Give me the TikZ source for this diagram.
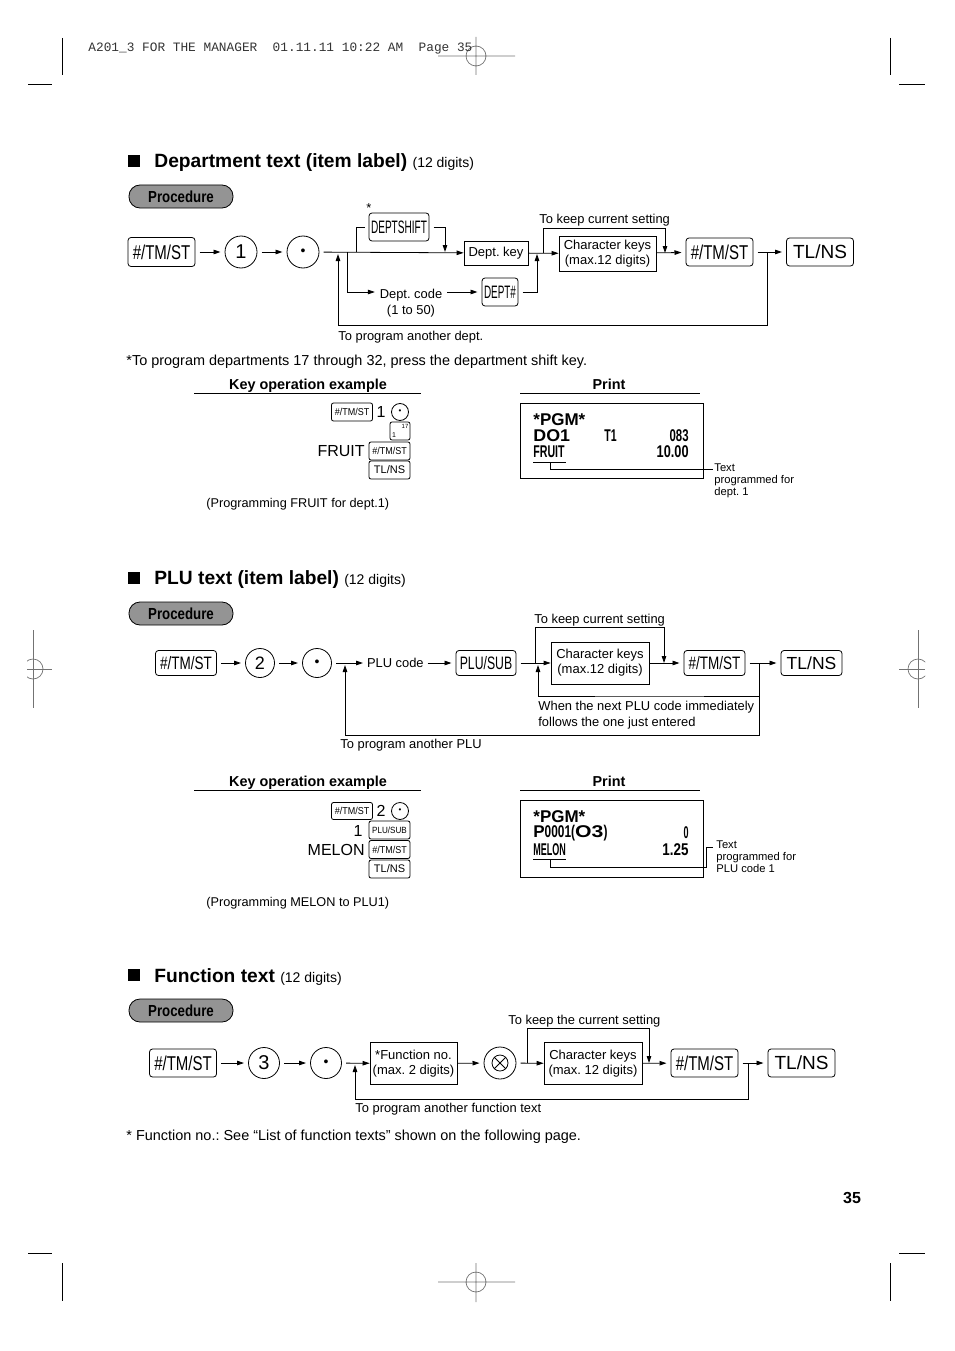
\documentclass[tikz,border=0pt]{standalone}
\usepackage{fontspec,graphicx,xcolor}
\setmainfont{Liberation Sans}
\newfontfamily\monofam{Liberation Mono}
\usetikzlibrary{arrows.meta,positioning,calc}
\newcommand{\fs}[1]{\fontsize{#1}{#1}\selectfont}
\newcommand{\nar}[2]{\scalebox{#1}[1]{#2}}
\tikzset{
    >={Triangle[length=7pt,width=4.5pt]},
    lab/.style={inner sep=0pt, yshift=-1.5pt, anchor=west, align=left, font=\fs{12.9}},
    note/.style={inner sep=0pt, yshift=-1.5pt, anchor=west, font=\fs{14.45}},
    head/.style={inner sep=0pt, anchor=west, font=\fs{19.2}\bfseries},
    sq/.style={fill=black, inner sep=0pt, minimum size=12pt},
    pill/.style={draw, fill=black!42, rounded corners=11pt, minimum width=104pt, minimum height=23pt, inner sep=0pt, font=\fs{16}\bfseries},
    bigkey/.style={draw, rounded corners=3pt, minimum width=67pt, minimum height=29pt, inner sep=0pt, outer sep=4.5pt, font=\fs{20}},
    midkey/.style={draw, rounded corners=3pt, minimum width=61pt, minimum height=25pt, inner sep=0pt, outer sep=4.5pt, font=\fs{18}},
    smallkey/.style={draw, rounded corners=2pt, minimum width=41pt, minimum height=18pt, inner sep=0pt, font=\fs{11}},
    roundkey/.style={draw, circle, minimum size=32pt, inner sep=0pt, outer sep=4.5pt, font=\fs{20}},
    textbox/.style={draw, inner sep=0pt, align=center, font=\fontsize{13}{15}\selectfont},
    crop/.style={black, line width=1pt},
    regmark/.style={black!55, line width=0.7pt},
    exhead/.style={inner sep=0pt, anchor=base, font=\fs{14.4}\bfseries},
    prt/.style={inner sep=0pt, anchor=west, font=\fs{17}\bfseries},
    prtwide/.style={inner sep=0pt, anchor=west, font=\fs{17}\bfseries}
}
\begin{document}
\frenchspacing
\begin{tikzpicture}[x=1pt,y=-1pt,line width=0.8pt]
    \useasboundingbox (0,0) rectangle (954,1351);

    % crop marks
    \draw[crop] (62,38) -- (62,75) (28,85) -- (52,85) (890,38) -- (890,75) (899,85) -- (925,85);
    \draw[crop] (62,1263) -- (62,1301) (28,1253) -- (52,1253) (890,1263) -- (890,1301) (899,1253) -- (925,1253);
    \draw[regmark] (476,56) circle (10pt) (438,56) -- (515,56) (476,37) -- (476,75);
    \draw[regmark] (476,1282) circle (10pt) (438,1282) -- (515,1282) (476,1263) -- (476,1302);
    \begin{scope}
        \clip (27,640) rectangle (53,700);
        \draw[regmark] (33,669) circle (10pt);
    \end{scope}
    \draw[regmark] (27,669) -- (52,669) (33,630) -- (33,708);
    \begin{scope}
        \clip (899,640) rectangle (925,700);
        \draw[regmark] (918,669) circle (10pt);
    \end{scope}
    \draw[regmark] (899,669) -- (925,669) (918,630) -- (918,708);
    \node[inner sep=0pt, anchor=west, font=\monofam\fs{12.8}, text=black!80] (slug) at (88,49) {A201\_3 FOR THE MANAGER\ \ 01.11.11 10:22 AM\ \ Page 35};

    % department text
    \node[sq] (sqA) at (134,161) {};
    \node[head] (headA) at (154,163) {Department text (item label) {\fs{14}\mdseries(12 digits)}};
    \node[pill] (procA) at (181,196.5) {\nar{.83}{Procedure}};
    \node[bigkey] (hashA) at (161.5,252) {\nar{.75}{\#/TM/ST}};
    \node[roundkey] (oneA) at (241,252) {1};
    \node[roundkey, font=\fs{14}] (dotA) at (303,252) {\textbullet};
    \node[textbox, minimum width=64pt, minimum height=24pt] (deptkey) at (496,253) {Dept. key};
    \node[bigkey, minimum width=60pt, minimum height=28pt, font=\fs{18}] (shiftkey) at (399,227) {\nar{.56}{DEPTSHIFT}};
    \node[lab] (starA) at (366,207) {*};
    \node[lab, align=center, anchor=north, outer sep=5pt, yshift=1.5pt] (deptcode) at (411,284) {Dept. code \\[3pt] (1 to 50)};
    \node[bigkey, minimum width=36pt, minimum height=28pt, font=\fs{18}] (deptnum) at (500,292) {\nar{.55}{DEPT\#}};
    \node[textbox, minimum width=97pt, minimum height=35pt] (charA) at (607.5,253.5) {Character keys \\ (max.12 digits)};
    \node[bigkey, minimum height=28pt] (hashB) at (719.5,252) {\nar{.75}{\#/TM/ST}};
    \node[bigkey, minimum height=28pt, font=\fs{19}] (tlA) at (820,252) {TL/NS};
    \node[lab] (keepA) at (539,219) {To keep current setting};
    \node[lab] (againA) at (338,336) {To program another dept.};
    \node[note] (noteA) at (126,360) {*To program departments 17 through 32, press the department shift key.};
    \coordinate (upA) at (356,252);
    \coordinate (lowA) at (347,252);
    \coordinate (dnA) at (445,252);
    \coordinate (backA) at (338,254);
    \coordinate (endA) at (767,252);
    \coordinate (joinA) at (537,254);
    \coordinate (outA) at (543,253);
    \coordinate (inA) at (665,253);
    \coordinate (topA) at (604,228);
    \coordinate (botA) at (550,325);
    \draw[->] (hashA) -- (oneA);
    \draw[->] (oneA) -- (dotA);
    \draw[->] (dotA) -- (deptkey);
    \draw (upA) |- (shiftkey);
    \draw[->] (shiftkey) -| (dnA);
    \draw[->] (lowA) |- (deptcode.west|-deptnum);
    \draw[->] (deptcode.east|-deptnum) -- (deptnum);
    \draw[->] (deptnum) -| (joinA);
    \draw[->] (deptkey) -- (charA);
    \draw (outA) |- (topA);
    \draw[->] (topA) -| (inA);
    \draw[->] (charA) -- (hashB);
    \draw[->] (hashB) -- (tlA);
    \draw (endA) |- (botA);
    \draw[->] (botA) -| (backA);

    % key operation example 1
    \node[exhead] (exA) at (308,389) {Key operation example};
    \draw (194,393.5) -- (421,393.5) (520,393.5) -- (700,393.5);
    \node[exhead] (prA) at (609,389) {Print};
    \node[smallkey, font=\fs{10}] (kA1) at (352,412) {\nar{.9}{\#/TM/ST}};
    \node[inner sep=0pt, font=\fs{16}] (kA2) at (381,412) {1};
    \node[draw, circle, minimum size=17pt, inner sep=0pt, font=\fs{8}] (kA3) at (400,412) {\textbullet};
    \node[smallkey, minimum width=20pt, minimum height=18pt] (kA4) at (400,431) {};
    \node[inner sep=0pt, font=\fs{7}] (kA4a) at (394,435) {1};
    \node[inner sep=0pt, font=\fs{6}] (kA4b) at (405,426) {17};
    \node[inner sep=0pt, anchor=east, font=\fs{16}] (kA5) at (365,451) {FRUIT};
    \node[smallkey, font=\fs{10}] (kA6) at (389.5,451) {\nar{.9}{\#/TM/ST}};
    \node[smallkey] (kA7) at (389.5,470) {TL/NS};
    \node[lab, font=\fs{12.7}] (capA) at (206,503) {(Programming FRUIT for dept.1)};
    \node[draw, inner sep=0pt, minimum width=183pt, minimum height=75pt] (rcpA) at (611.5,440.5) {};
    \node[prtwide] (rA1) at (533,420) {*PGM*};
    \node[prtwide] (rA2) at (533,436) {\nar{1.05}{DO1}};
    \node[prt] (rA3) at (604,436) {\nar{.62}{T1}};
    \node[prt, anchor=east] (rA4) at (689,436) {\nar{.67}{083}};
    \node[prt] (rA5) at (533,452) {\nar{.625}{FRUIT}};
    \node[prt, anchor=east] (rA6) at (689,452) {\nar{.75}{10.00}};
    \coordinate (ulA1) at (533,462);
    \coordinate (ulA2) at (566,462);
    \coordinate (ulA3) at (550,462);
    \node[lab, font=\fs{11.2}, anchor=north west, yshift=1.5pt] (txtA) at (714,463) {Text \\[1pt] programmed for \\[1pt] dept. 1};
    \coordinate (txtAin) at (713,469);
    \draw (ulA1) -- (ulA2);
    \draw (ulA3) |- (txtAin);

    % PLU text
    \node[sq] (sqB) at (134,578) {};
    \node[head] (headB) at (154,580) {PLU text (item label) {\fs{14}\mdseries(12 digits)}};
    \node[pill] (procB) at (181,613.5) {\nar{.83}{Procedure}};
    \node[midkey] (hashC) at (186,663) {\nar{.75}{\#/TM/ST}};
    \node[roundkey, minimum size=29pt, font=\fs{18}] (twoB) at (260,663) {2};
    \node[roundkey, minimum size=29pt, font=\fs{14}] (dotB) at (317,663) {\textbullet};
    \node[lab, minimum height=14pt, outer sep=4pt, yshift=1.5pt] (plucode) at (363,663) {PLU code};
    \node[midkey, minimum width=60pt] (plusub) at (486,663) {\nar{.68}{PLU/SUB}};
    \node[textbox, minimum width=98pt, minimum height=42pt] (charB) at (600,663) {Character keys \\ (max.12 digits)};
    \node[midkey] (hashD) at (714.5,663) {\nar{.75}{\#/TM/ST}};
    \node[midkey, font=\fs{17.5}] (tlB) at (811.5,663) {TL/NS};
    \node[lab] (keepB) at (534,619) {To keep current setting};
    \node[lab] (nextB) at (538,706) {When the next PLU code immediately};
    \node[lab] (nextBb) at (538,722) {follows the one just entered};
    \node[lab] (againB) at (340,744) {To program another PLU};
    \coordinate (codeB) at (363,663);
    \coordinate (backB) at (345,665);
    \coordinate (outB) at (535,663);
    \coordinate (inB) at (664,663);
    \coordinate (topB) at (600,627);
    \coordinate (endB) at (759,663);
    \coordinate (midB) at (650,696);
    \coordinate (retB) at (538,665);
    \coordinate (botB) at (550,735);
    \draw[->] (hashC) -- (twoB);
    \draw[->] (twoB) -- (dotB);
    \draw[->] (dotB) -- (codeB);
    \draw[->] (plucode) -- (plusub);
    \draw[->] (plusub) -- (charB);
    \draw (outB) |- (topB);
    \draw[->] (topB) -| (inB);
    \draw[->] (charB) -- (hashD);
    \draw[->] (hashD) -- (tlB);
    \draw (endB) |- (botB);
    \draw[->] (botB) -| (backB);
    \draw[->] (endB) |- (midB) -| (retB);

    % key operation example 2
    \node[exhead] (exB) at (308,786) {Key operation example};
    \draw (194,790.5) -- (421,790.5) (520,790.5) -- (700,790.5);
    \node[exhead] (prB) at (609,786) {Print};
    \node[smallkey, minimum height=17pt, font=\fs{10}] (kB1) at (352,811) {\nar{.9}{\#/TM/ST}};
    \node[inner sep=0pt, font=\fs{16}] (kB2) at (381,811) {2};
    \node[draw, circle, minimum size=17pt, inner sep=0pt, font=\fs{8}] (kB3) at (400,811) {\textbullet};
    \node[inner sep=0pt, anchor=east, font=\fs{16}] (kB4) at (363,831) {1};
    \node[smallkey, font=\fs{9}] (kB5) at (389.5,830) {\nar{.9}{PLU/SUB}};
    \node[inner sep=0pt, anchor=east, font=\fs{16}] (kB6) at (365,850) {MELON};
    \node[smallkey, font=\fs{10}] (kB7) at (389.5,849.5) {\nar{.9}{\#/TM/ST}};
    \node[smallkey] (kB8) at (389.5,869) {TL/NS};
    \node[lab, font=\fs{12.7}] (capB) at (206,902) {(Programming MELON to PLU1)};
    \node[draw, inner sep=0pt, minimum width=183pt, minimum height=77pt] (rcpB) at (611.5,838.5) {};
    \node[prtwide] (rB1) at (533,817) {*PGM*};
    \node[prt] (rB2) at (533,833) {P\nar{.7}{0001}\nar{.7}{(}\nar{1.25}{O3}\nar{.7}{)}};
    \node[prt, anchor=east] (rB3) at (689,833) {\nar{.53}{0}};
    \node[prt] (rB4) at (533,850) {\nar{.53}{MELON}};
    \node[prt, anchor=east] (rB5) at (689,850) {\nar{.79}{1.25}};
    \coordinate (ulB1) at (533,859);
    \coordinate (ulB2) at (566,859);
    \coordinate (ulB3) at (550,859);
    \node[lab, font=\fs{11.2}, anchor=north west, yshift=1.5pt] (txtB) at (716,840) {Text \\[1pt] programmed for \\[1pt] PLU code 1};
    \coordinate (txtBin) at (713,847);
    \coordinate (txtBc) at (706,867);
    \draw (ulB1) -- (ulB2);
    \draw (ulB3) |- (txtBc) |- (txtBin);

    % function text
    \node[sq] (sqC) at (134,975) {};
    \node[head] (headC) at (154,977) {Function text {\fs{14}\mdseries(12 digits)}};
    \node[pill] (procC) at (181,1010.5) {\nar{.83}{Procedure}};
    \node[bigkey, minimum height=28pt] (hashE) at (183,1063) {\nar{.75}{\#/TM/ST}};
    \node[roundkey, minimum size=31pt] (threeC) at (264,1063) {3};
    \node[roundkey, minimum size=31pt, font=\fs{14}] (dotC) at (326,1063) {\textbullet};
    \node[textbox, minimum width=87pt, minimum height=42pt] (funcno) at (413.5,1063.5) {*Function no. \\ (max. 2 digits)};
    \node[roundkey] (xkey) at (500,1063) {};
    \node[draw, circle, minimum size=16pt, inner sep=0pt] (xmark) at (500,1063) {};
    \node[textbox, minimum width=98pt, minimum height=42pt] (charC) at (593,1063.5) {Character keys \\ (max. 12 digits)};
    \node[bigkey, minimum height=28pt] (hashF) at (704.5,1063) {\nar{.75}{\#/TM/ST}};
    \node[bigkey, minimum height=28pt, font=\fs{19}] (tlC) at (801.5,1063) {TL/NS};
    \node[lab] (keepC) at (508,1020) {To keep the current setting};
    \node[lab] (againC) at (355,1108) {To program another function text};
    \node[note] (noteC) at (126,1135) {* Function no.: See “List of function texts” shown on the following page.};
    \node[inner sep=0pt, font=\fs{16}\bfseries] (pageno) at (852,1198) {35};
    \coordinate (outC) at (527,1063);
    \coordinate (inC) at (649,1063);
    \coordinate (topC) at (590,1028);
    \coordinate (endC) at (748,1063);
    \coordinate (botC) at (550,1099);
    \coordinate (backC) at (355,1065);
    \draw (xmark.45) -- (xmark.225) (xmark.135) -- (xmark.315);
    \draw[->] (hashE) -- (threeC);
    \draw[->] (threeC) -- (dotC);
    \draw[->] (dotC) -- (funcno);
    \draw[->] (funcno) -- (xkey);
    \draw[->] (xkey) -- (charC);
    \draw (outC) |- (topC);
    \draw[->] (topC) -| (inC);
    \draw[->] (charC) -- (hashF);
    \draw[->] (hashF) -- (tlC);
    \draw (endC) |- (botC);
    \draw[->] (botC) -| (backC);
\end{tikzpicture}
\end{document}
